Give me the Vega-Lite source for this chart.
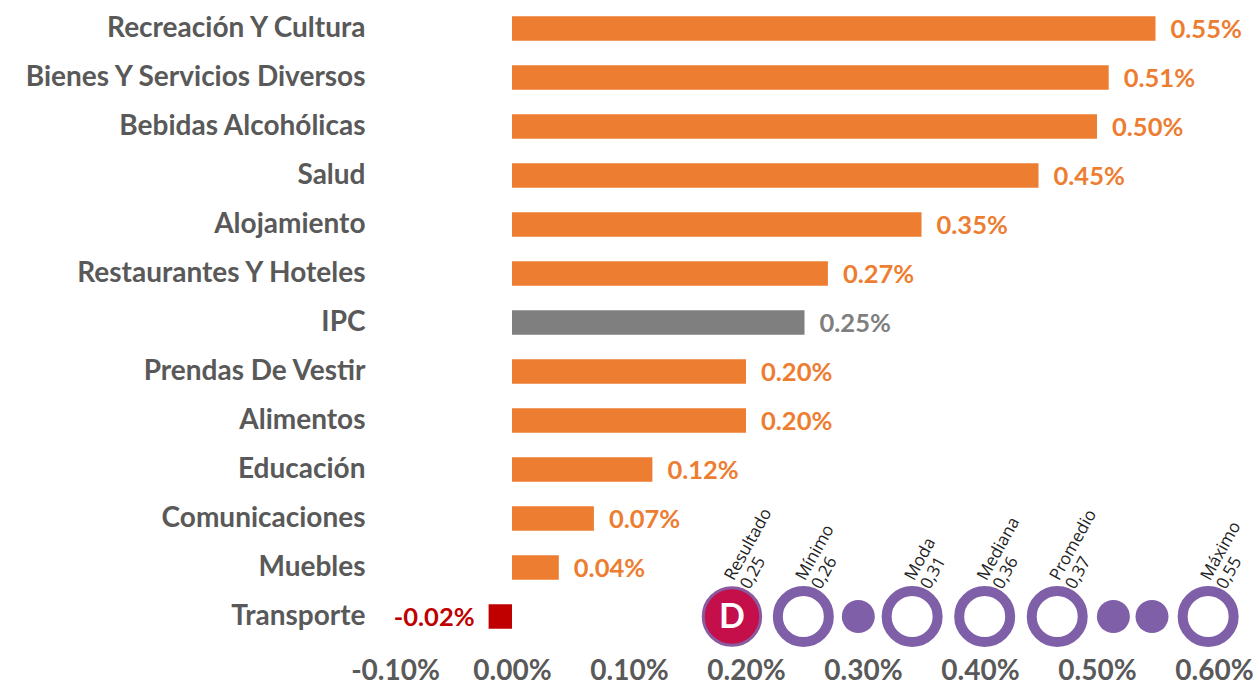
{
  "$schema": "https://vega.github.io/schema/vega-lite/v6.json",
  "width": 819,
  "height": 637,
  "autosize": {"type": "none"},
  "padding": {"left": 395, "top": 4, "right": 45, "bottom": 53},
  "background": "white",
  "config": {"view": {"stroke": null}, "font": "Lato"},
  "datasets": {
    "bars": [
      {"cat": "Recreación Y Cultura", "value": 0.0055},
      {"cat": "Bienes Y Servicios Diversos", "value": 0.0051},
      {"cat": "Bebidas Alcohólicas", "value": 0.0050},
      {"cat": "Salud", "value": 0.0045},
      {"cat": "Alojamiento", "value": 0.0035},
      {"cat": "Restaurantes Y Hoteles", "value": 0.0027},
      {"cat": "IPC", "value": 0.0025},
      {"cat": "Prendas De Vestir", "value": 0.0020},
      {"cat": "Alimentos", "value": 0.0020},
      {"cat": "Educación", "value": 0.0012},
      {"cat": "Comunicaciones", "value": 0.0007},
      {"cat": "Muebles", "value": 0.0004},
      {"cat": "Transporte", "value": -0.0002}
    ],
    "inset": [
      {"name": "Resultado", "val": "0,25", "pos": 0.00188, "kind": "logo", "cat": "Transporte"},
      {"name": "Mínimo", "val": "0,26", "pos": 0.00249, "kind": "ring", "cat": "Transporte"},
      {"name": "", "val": "", "pos": 0.00296, "kind": "dot", "cat": "Transporte"},
      {"name": "Moda", "val": "0,31", "pos": 0.00342, "kind": "ring", "cat": "Transporte"},
      {"name": "Mediana", "val": "0,36", "pos": 0.00404, "kind": "ring", "cat": "Transporte"},
      {"name": "Promedio", "val": "0,37", "pos": 0.00466, "kind": "ring", "cat": "Transporte"},
      {"name": "", "val": "", "pos": 0.00514, "kind": "dot", "cat": "Transporte"},
      {"name": "", "val": "", "pos": 0.00547, "kind": "dot", "cat": "Transporte"},
      {"name": "Máximo", "val": "0,55", "pos": 0.00595, "kind": "ring", "cat": "Transporte"}
    ]
  },
  "encoding": {
    "y": {
      "field": "cat", "type": "nominal", "sort": null,
      "scale": {"domain": ["Recreación Y Cultura", "Bienes Y Servicios Diversos", "Bebidas Alcohólicas", "Salud", "Alojamiento", "Restaurantes Y Hoteles", "IPC", "Prendas De Vestir", "Alimentos", "Educación", "Comunicaciones", "Muebles", "Transporte"], "paddingInner": 0.5, "paddingOuter": 0.25},
      "axis": {"title": null, "domain": false, "ticks": false, "tickSize": 0, "labelPadding": 30, "labelFont": "Lato", "labelFontSize": 28, "labelFontWeight": "bold", "labelColor": "#595959", "labelLimit": 500}
    }
  },
  "layer": [
    {
      "data": {"name": "bars"},
      "mark": {"type": "bar"},
      "encoding": {
        "x": {
          "field": "value", "type": "quantitative",
          "scale": {"domain": [-0.001, 0.006], "nice": false, "zero": false},
          "axis": {"title": null, "domain": false, "ticks": false, "tickSize": 0, "grid": false, "values": [-0.001, 0, 0.001, 0.002, 0.003, 0.004, 0.005, 0.006], "labelExpr": "(datum.value < -0.00000001 ? '-' : '') + format(abs(datum.value), '.2%')", "labelPadding": 16, "labelFont": "Lato", "labelFontSize": 28, "labelFontWeight": "bold", "labelColor": "#595959", "labelFlush": false}
        },
        "color": {
          "condition": [
            {"test": "datum.cat === 'IPC'", "value": "#7F7F7F"},
            {"test": "datum.value < 0", "value": "#C00000"}
          ],
          "value": "#ED7D31"
        }
      }
    },
    {
      "data": {"values": [{"zero": 0}]},
      "mark": {"type": "rule", "color": "#D9D9D9", "strokeWidth": 2},
      "encoding": {"x": {"field": "zero", "type": "quantitative"}}
    },
    {
      "data": {"name": "bars"},
      "transform": [
        {"filter": "datum.value >= 0"},
        {"calculate": "format(datum.value, '.2%')", "as": "lbl"}
      ],
      "mark": {"type": "text", "align": "left", "baseline": "middle", "dx": 15, "dy": 1, "font": "Lato", "fontSize": 25.5, "fontWeight": "bold"},
      "encoding": {
        "x": {"field": "value", "type": "quantitative"},
        "text": {"field": "lbl"},
        "color": {
          "condition": [{"test": "datum.cat === 'IPC'", "value": "#7F7F7F"}],
          "value": "#ED7D31"
        }
      }
    },
    {
      "data": {"name": "bars"},
      "transform": [
        {"filter": "datum.value < 0"},
        {"calculate": "'-' + format(abs(datum.value), '.2%')", "as": "lbl"}
      ],
      "mark": {"type": "text", "align": "right", "baseline": "middle", "dx": -14, "dy": 1, "font": "Lato", "fontSize": 25.5, "fontWeight": "bold", "color": "#C00000"},
      "encoding": {
        "x": {"field": "value", "type": "quantitative"},
        "text": {"field": "lbl"}
      }
    },
    {
      "data": {"name": "inset"},
      "transform": [{"filter": "datum.kind === 'ring'"}],
      "mark": {"type": "point", "shape": "circle", "filled": false, "size": 2600, "strokeWidth": 10, "color": "#7F5FA8", "opacity": 1},
      "encoding": {"x": {"field": "pos", "type": "quantitative"}}
    },
    {
      "data": {"name": "inset"},
      "transform": [{"filter": "datum.kind === 'dot'"}],
      "mark": {"type": "point", "shape": "circle", "filled": true, "size": 1090, "color": "#7F5FA8", "opacity": 1},
      "encoding": {"x": {"field": "pos", "type": "quantitative"}}
    },
    {
      "data": {"name": "inset"},
      "transform": [{"filter": "datum.kind === 'logo'"}],
      "mark": {"type": "point", "shape": "circle", "filled": true, "size": 3300, "fill": "#C40F4A", "stroke": "#8A5A9E", "strokeWidth": 3, "opacity": 1},
      "encoding": {"x": {"field": "pos", "type": "quantitative"}}
    },
    {
      "data": {"name": "inset"},
      "transform": [{"filter": "datum.kind === 'logo'"}],
      "mark": {"type": "text", "text": "D", "font": "Lato", "fontSize": 34, "fontWeight": "bold", "color": "white", "align": "center", "baseline": "middle", "dy": 1},
      "encoding": {"x": {"field": "pos", "type": "quantitative"}}
    },
    {
      "data": {"name": "inset"},
      "transform": [
        {"filter": "datum.name !== ''"},
        {"calculate": "datum.name + '\\n' + datum.val", "as": "txt"}
      ],
      "mark": {"type": "text", "align": "left", "baseline": "alphabetic", "angle": -61, "radius": 36, "dy": 2, "lineBreak": "\n", "lineHeight": 18, "font": "Open Sans", "fontSize": 17, "color": "#222222"},
      "encoding": {
        "x": {"field": "pos", "type": "quantitative"},
        "text": {"field": "txt"}
      }
    }
  ]
}
